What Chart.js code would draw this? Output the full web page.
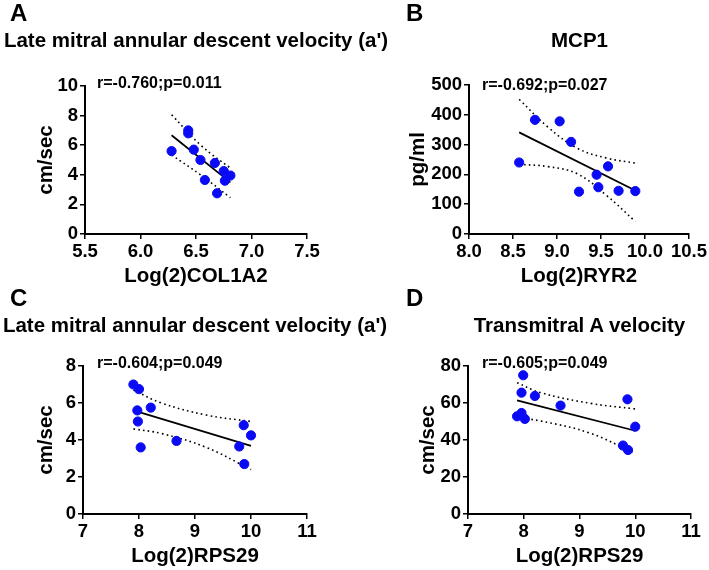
<!DOCTYPE html>
<html>
<head>
<meta charset="utf-8">
<script src="https://cdn.jsdelivr.net/npm/chart.js@4.4.0/dist/chart.umd.min.js"></script>
<style>
body{margin:0;background:#fff;font-family:"Liberation Sans",Arial,sans-serif;}
#wrap{position:relative;width:709px;height:570px;overflow:hidden;background:#fff;}
canvas{position:absolute;}
.t{position:absolute;font-weight:bold;color:#000;line-height:1;white-space:nowrap;}
</style>
</head>
<body>
<div id="wrap">
<canvas id="cA" width="355" height="300" style="left:0;top:0"></canvas>
<canvas id="cB" width="354" height="300" style="left:355px;top:0"></canvas>
<canvas id="cC" width="355" height="280" style="left:0;top:290px"></canvas>
<canvas id="cD" width="354" height="280" style="left:355px;top:290px"></canvas>

<div class="t" style="left:10px;top:1px;font-size:24px">A</div>
<div class="t" style="left:406px;top:1px;font-size:24px">B</div>
<div class="t" style="left:10px;top:286px;font-size:24px">C</div>
<div class="t" style="left:406px;top:286px;font-size:24px">D</div>

<div class="t" style="left:0;width:392px;text-align:center;top:30px;font-size:20.5px">Late mitral annular descent velocity (a')</div>
<div class="t" style="left:469px;width:221px;text-align:center;top:30px;font-size:20.5px">MCP1</div>
<div class="t" style="left:0;width:390px;text-align:center;top:315px;font-size:20.5px">Late mitral annular descent velocity (a')</div>
<div class="t" style="left:468px;width:223px;text-align:center;top:315px;font-size:20.5px">Transmitral A velocity</div>

<div class="t" style="left:97px;top:75px;font-size:16px">r=-0.760;p=0.011</div>
<div class="t" style="left:482px;top:77px;font-size:16px">r=-0.692;p=0.027</div>
<div class="t" style="left:97px;top:355px;font-size:16px">r=-0.604;p=0.049</div>
<div class="t" style="left:482px;top:355px;font-size:16px">r=-0.605;p=0.049</div>
</div>

<script>
/* DATA */

// A: COL1A2 vs a'
const aX=[6.28,6.43,6.43,6.48,6.54,6.58,6.67,6.69,6.75,6.76,6.81];
const aY=[5.6,7.0,6.8,5.7,5.0,3.65,4.8,2.75,4.25,3.6,3.95];
const aFitX=[6.28,6.81];
const aFitY=[6.67,3.49];
const aBandX=[6.28,6.55,6.81];
const aUpper=[8.06,5.95,4.45];
const aLower=[5.34,3.95,2.45];

// B: RYR2 vs MCP1
const bX=[8.57,8.75,9.03,9.16,9.25,9.45,9.47,9.58,9.70,9.89];
const bY=[240,383,378,309,142,199,157,227,145,144];
const bFitX=[8.57,9.89];
const bFitY=[341,146];
const bBandX=[8.57,8.9,9.23,9.56,9.89];
const bUpper=[452,358,288,255,238];
const bLower=[234,226,202,130,42];

// C: RPS29 vs a'
const cX=[7.90,7.97,7.98,8.00,8.03,8.21,8.67,9.79,9.87,9.88,10.00];
const cY=[7.0,5.6,5.0,6.75,3.6,5.75,3.95,3.65,4.8,2.7,4.25];
const cFitX=[7.9,10.0];
const cFitY=[5.6,3.68];
const cBandX=[7.9,8.4,9.2,10.0];
const cUpper=[6.7,6.0,5.35,5.0];
const cLower=[4.6,4.35,3.6,2.4];

// D: RPS29 vs transmitral A
const dX=[7.88,7.96,7.96,7.99,8.02,8.20,8.66,9.78,9.86,9.87,10.00];
const dY=[52.8,54.6,65.6,75,51.4,63.8,58.6,37,62,34.6,47.2];
const dFitX=[7.88,10.0];
const dFitY=[61.4,45.0];
const dBandX=[7.88,8.3,9.2,10.0];
const dUpper=[71,65.6,59.8,56.8];
const dLower=[52,50.3,43.6,32.5];

/* CHARTS */

const FONT="'Liberation Sans', Arial, sans-serif";

function pts(xs,ys){
return xs.map((x,i)=>({x:x,y:ys[i]}));
}

function axis(min,max,step,dec,title,fit){
return {
type:"linear",
min:min,max:max,
afterFit:fit,
grid:{drawOnChartArea:false,drawTicks:true,tickLength:5,color:"#000",lineWidth:1.5},
border:{display:true,color:"#000",width:2},
ticks:{stepSize:step,color:"#000",padding:2,maxRotation:0,autoSkip:false,
font:{family:FONT,size:18.5,weight:"bold"},
callback:v=>v.toFixed(dec)},
title:{display:true,text:title,color:"#000",padding:0,
font:{family:FONT,size:20.5,weight:"bold"}}
};
}

function scatterChart(id,o){

const band={showLine:true,borderColor:"#000",borderWidth:1.6,borderDash:[1.6,3.2],
pointRadius:0,tension:0.4,fill:false,clip:false};

new Chart(document.getElementById(id),{
type:"scatter",
data:{datasets:[
{data:pts(o.x,o.y),backgroundColor:"#0a0af5",borderColor:"#0a0af5",pointRadius:4.6,
pointHoverRadius:4.6,clip:false},
{data:pts(o.fitX,o.fitY),showLine:true,borderColor:"#000",borderWidth:1.8,pointRadius:0,clip:false},
Object.assign({data:pts(o.bandX,o.upper)},band),
Object.assign({data:pts(o.bandX,o.lower)},band)
]},
options:{
responsive:false,
animation:false,
events:[],
layout:{padding:o.pad},
plugins:{legend:{display:false},tooltip:{enabled:false}},
scales:{
x:axis(o.xr[0],o.xr[1],o.xr[2],o.xr[3],o.xt,s=>{s.height=55;}),
y:axis(o.yr[0],o.yr[1],o.yr[2],0,o.yt,s=>{s.width=o.yw;})
}
}
});

}

scatterChart("cA",{x:aX,y:aY,fitX:aFitX,fitY:aFitY,bandX:aBandX,upper:aUpper,lower:aLower,
xr:[5.5,7.5,0.5,1],yr:[0,10,2],xt:"Log(2)COL1A2",yt:"cm/sec",
pad:{left:34,top:86,right:48,bottom:11},yw:51});

scatterChart("cB",{x:bX,y:bY,fitX:bFitX,fitY:bFitY,bandX:bBandX,upper:bUpper,lower:bLower,
xr:[8.0,10.5,0.5,1],yr:[0,500,100],xt:"Log(2)RYR2",yt:"pg/ml",
pad:{left:51,top:85,right:19,bottom:11},yw:63});

scatterChart("cC",{x:cX,y:cY,fitX:cFitX,fitY:cFitY,bandX:cBandX,upper:cUpper,lower:cLower,
xr:[7,11,1,0],yr:[0,8,2],xt:"Log(2)RPS29",yt:"cm/sec",
pad:{left:34,top:76,right:48,bottom:1},yw:49});

scatterChart("cD",{x:dX,y:dY,fitX:dFitX,fitY:dFitY,bandX:dBandX,upper:dUpper,lower:dLower,
xr:[7,11,1,0],yr:[0,80,20],xt:"Log(2)RPS29",yt:"cm/sec",
pad:{left:61,top:76,right:18,bottom:1},yw:52});
</script>
</body>
</html>
